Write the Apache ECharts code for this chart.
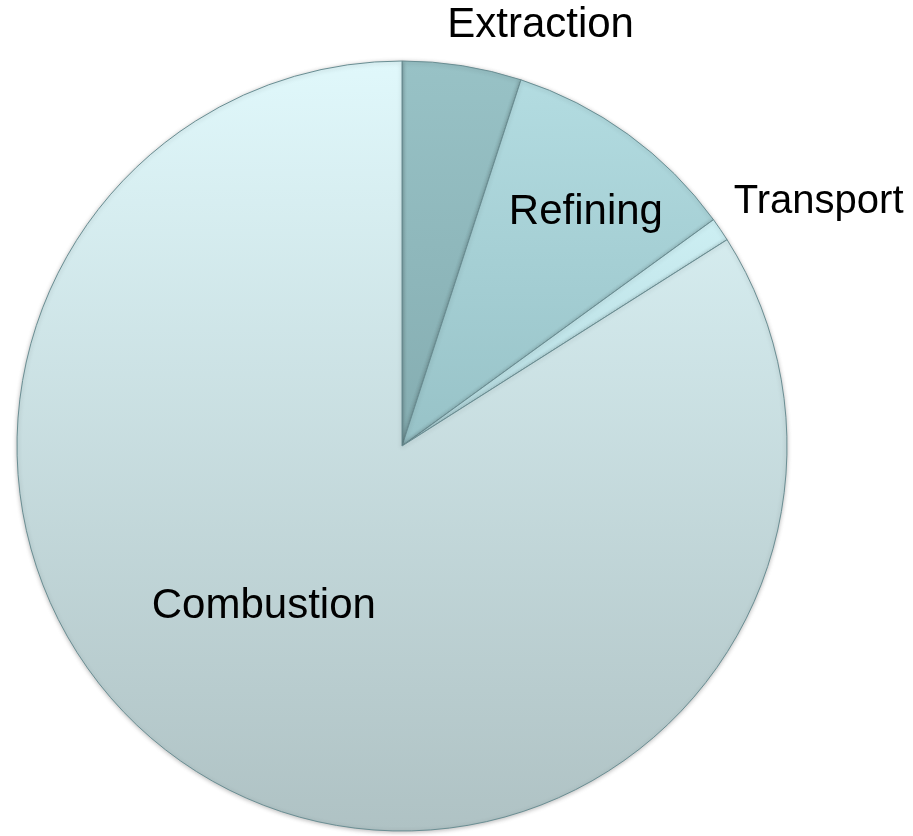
<!DOCTYPE html>
<html>
<head>
<meta charset="utf-8">
<script src="https://cdn.jsdelivr.net/npm/echarts@6/dist/echarts.min.js"></script>
<style>
  html, body { margin: 0; padding: 0; background: #ffffff; }
  #chart { width: 913px; height: 836px; }
</style>
</head>
<body>
<div id="chart"></div>
<script>
// Data
var categories = ['Extraction', 'Refining', 'Transport', 'Combustion'];
var values = [5, 10, 1, 84];

// Styling (kept separate from the data)
var topColors = ['#98c2c6', '#b3dce1', '#cdeff3', '#e0f8fb'];
var bottomColors = ['#85adb1', '#97c2c7', '#b4dadf', '#afc2c4'];
var labelSizes = [42, 42, 40, 42];
var labelShift = [[108, -227], [69, -75], [255, -134], [-44, -11]];

var chart = echarts.init(document.getElementById('chart'), null, { renderer: 'canvas' });

var seriesData = categories.map(function (name, i) {
  return {
    name: name,
    value: values[i],
    itemStyle: {
      color: new echarts.graphic.LinearGradient(0, 0, 0, 1, [
        { offset: 0, color: topColors[i] },
        { offset: 1, color: bottomColors[i] }
      ])
    },
    label: { fontSize: labelSizes[i] }
  };
});

chart.setOption({
  backgroundColor: '#ffffff',
  animation: false,
  series: [{
    type: 'pie',
    center: [402, 446],
    radius: [0, 385],
    startAngle: 90,
    clockwise: true,
    avoidLabelOverlap: false,
    data: seriesData,
    itemStyle: {
      borderColor: '#6a8e93',
      borderWidth: 1,
      shadowColor: 'rgba(0,0,0,0.25)',
      shadowBlur: 4,
      shadowOffsetY: 1
    },
    label: {
      show: true,
      position: 'inside',
      formatter: '{b}',
      color: '#000000',
      fontFamily: '"Liberation Sans", Arial, sans-serif',
      fontWeight: 'normal'
    },
    labelLine: { show: false },
    labelLayout: function (params) {
      var s = labelShift[params.dataIndex];
      return { dx: s[0], dy: s[1] };
    },
    emphasis: { disabled: true }
  }]
});
</script>
</body>
</html>
